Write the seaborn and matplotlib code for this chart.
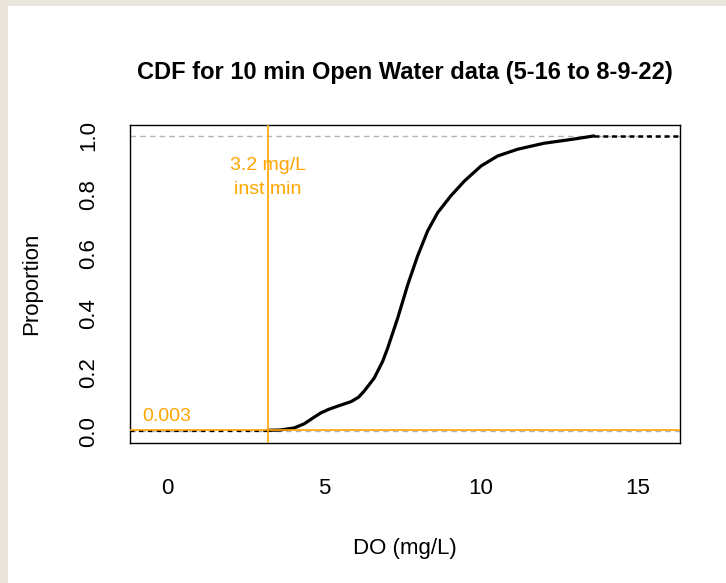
import matplotlib
matplotlib.use("Agg")
import matplotlib.pyplot as plt
import matplotlib.patches as mpatches
import seaborn as sns
import pandas as pd

# ---- data ----
do_vals = [3.2, 3.6, 4.05, 4.37, 4.65, 4.9, 5.15, 5.44, 5.86, 6.1, 6.28, 6.6,
           6.87, 7.03, 7.35, 7.67, 7.98, 8.30, 8.62, 9.04, 9.47, 10.0, 10.53,
           11.17, 12.0, 13.0, 13.6]
proportion = [0.003, 0.004, 0.011, 0.025, 0.045, 0.062, 0.074, 0.085, 0.10,
              0.115, 0.136, 0.18, 0.237, 0.282, 0.384, 0.497, 0.593, 0.678,
              0.74, 0.797, 0.847, 0.898, 0.932, 0.955, 0.975, 0.99, 1.0]
inst_min = 3.2
prop_below = 0.003
x_ticks = [0, 5, 10, 15]
y_ticks = [0.0, 0.2, 0.4, 0.6, 0.8, 1.0]
y_tick_labels = ["0.0", "0.2", "0.4", "0.6", "0.8", "1.0"]
title = "CDF for 10 min Open Water data (5-16 to 8-9-22)"
xlabel = "DO (mg/L)"
ylabel = "Proportion"
min_label = "3.2 mg/L\ninst min"
prop_label = "0.003"

sns.set_style("white")
plt.rcParams["font.family"] = ["Liberation Sans", "DejaVu Sans"]
plt.rcParams["text.color"] = "black"
plt.rcParams["axes.labelcolor"] = "black"

ORANGE = "#FFA500"
GRAY = "#b3b3b3"

fig = plt.figure(figsize=(7.26, 5.83), dpi=100, facecolor="#ebe6dc")
fig.patches.append(mpatches.Rectangle((8 / 726, 0), 1 - 8 / 726, 1 - 6 / 583,
                                      transform=fig.transFigure,
                                      facecolor="white", edgecolor="none",
                                      zorder=-10))
ax = fig.add_axes([130 / 726, 1 - 443 / 583, 550 / 726, 318 / 583])
ax.set_zorder(5)
ax.set_facecolor("white")

xlim = (-1.18, 16.34)
ylim = (-0.04, 1.037)

# grey reference lines at 0 and 1
ax.axhline(0, color=GRAY, lw=1.0, ls=(0, (4, 3)), zorder=1)
ax.axhline(1, color=GRAY, lw=1.0, ls=(0, (4, 3)), zorder=1)

df = pd.DataFrame({"DO": do_vals, "Proportion": proportion})
sns.lineplot(data=df, x="DO", y="Proportion", sort=False, color="black",
             lw=2.3, ax=ax, zorder=3, estimator=None,
             solid_joinstyle="round", solid_capstyle="round")

# dashed extensions of the ECDF outside the data range
ax.plot([xlim[0], min(do_vals)], [0, 0], color="black", lw=1.6,
        ls=(0, (2, 2)), zorder=2)
ax.plot([max(do_vals), xlim[1]], [1, 1], color="black", lw=1.8,
        ls=(0, (2, 1.5)), zorder=2)

# orange markers
ax.axhline(prop_below, color=ORANGE, lw=1.2, zorder=4)
ax.axvline(inst_min, color=ORANGE, lw=1.2, zorder=4)
ax.text(0, 0.049, prop_label, color=ORANGE, fontsize=14, ha="center",
        va="center")
ax.text(inst_min, 0.86, min_label, color=ORANGE, fontsize=14, ha="center",
        va="center", linespacing=1.55)

ax.set_xlim(*xlim)
ax.set_ylim(*ylim)
ax.set_xticks(x_ticks)
ax.set_xticklabels([str(t) for t in x_ticks])
ax.set_yticks(y_ticks)
ax.set_yticklabels(y_tick_labels, rotation=90, va="center")
ax.tick_params(axis="both", direction="out", length=10, width=1.0,
               color="#222222", labelsize=16, labelcolor="black")
ax.tick_params(axis="x", pad=15)
ax.tick_params(axis="y", pad=12)
for s in ax.spines.values():
    s.set_visible(True)
    s.set_color("black")
    s.set_linewidth(1.0)

ax.set_xlabel(xlabel, fontsize=16)
ax.set_ylabel(ylabel, fontsize=16)
ax.xaxis.set_label_coords(0.5, -0.30)
ax.yaxis.set_label_coords(-0.16, 0.5)
ax.set_title(title, fontsize=17, fontweight="bold", pad=33, color="black")

fig.savefig("out.png", dpi=100, facecolor=fig.get_facecolor())
